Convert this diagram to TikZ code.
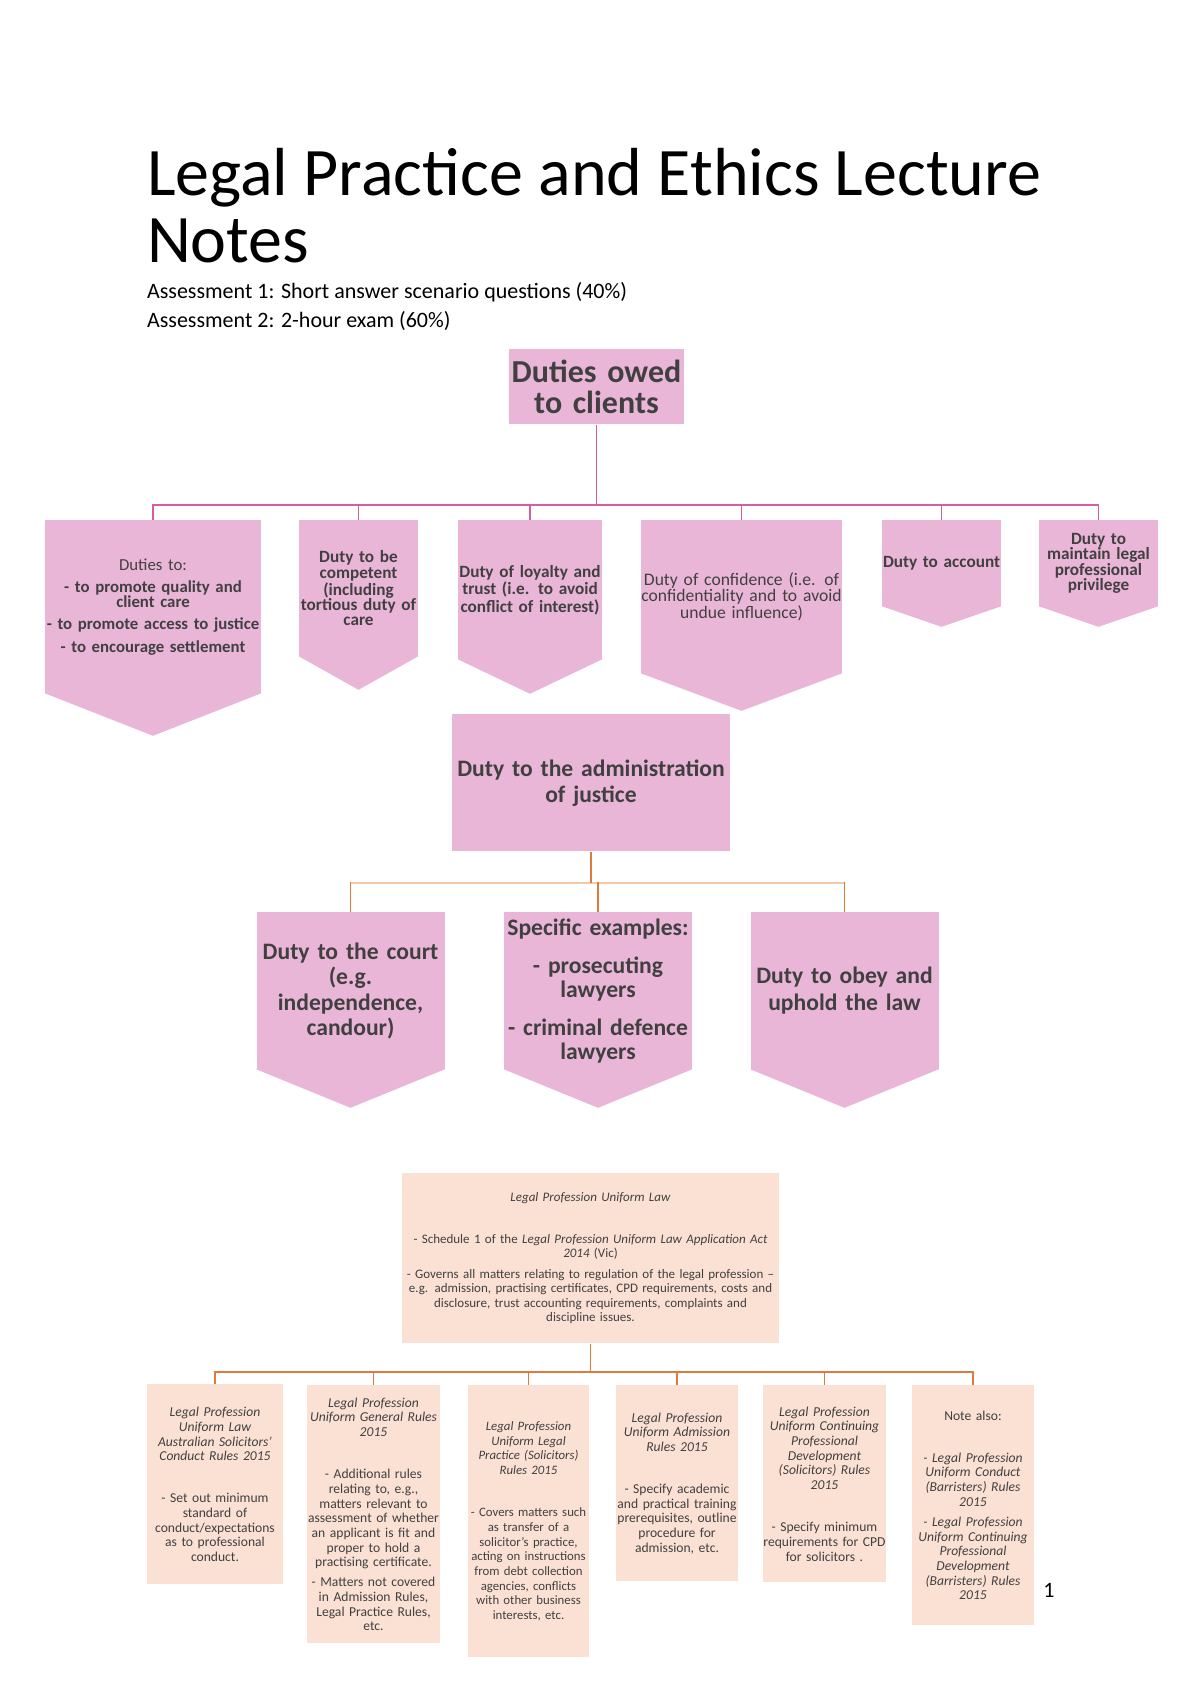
\documentclass[tikz,border=0pt]{standalone}
\usepackage{fontspec}
\setmainfont{Carlito}
\usetikzlibrary{calc}
\definecolor{pinkfill}{RGB}{234,182,216}
\definecolor{pinkedge}{RGB}{214,92,164}
\definecolor{peachfill}{RGB}{251,225,212}
\definecolor{orangeedge}{RGB}{222,122,62}
\definecolor{orangepale}{RGB}{245,200,170}
\definecolor{textgray}{RGB}{64,64,64}
\begin{document}
\begin{tikzpicture}[x=0.5pt,y=-0.5pt] % 1 unit = 1 px of the page
\tikzstyle{dutybox} = [fill=pinkfill, text=textgray, inner sep=0pt, align=center, anchor=north] % pink boxes
\tikzstyle{rulebox} = [fill=peachfill, text=textgray, inner sep=0pt, align=center, anchor=north, font=\fontsize{6.8}{7.35}\selectfont] % peach boxes
\tikzstyle{smalltxt} = [font=\fontsize{8.6}{7.6}\selectfont\bfseries] % text of the upper row
\tikzstyle{bigtxt} = [font=\fontsize{11.8}{12.6}\selectfont\bfseries] % text of the middle row
\tikzstyle{pinkline} = [draw=pinkedge, line width=0.8pt]
\tikzstyle{orline} = [draw=orangeedge, line width=0.8pt]
\tikzstyle{paleline} = [draw=orangepale, line width=0.8pt]

\useasboundingbox (0,0) rectangle (1200,1698); % page

% заголовок
\node[anchor=base west, font=\fontsize{34}{38}\selectfont] (title1) at (140,195) {Legal Practice and Ethics Lecture};
\node[anchor=base west, font=\fontsize{34}{38}\selectfont] (title2) at (140,262) {Notes};
\node[anchor=base west, font=\fontsize{11}{13}\selectfont] (assess1) at (140,298) {Assessment 1: Short answer scenario questions (40\%)};
\node[anchor=base west, font=\fontsize{11}{13}\selectfont] (assess2) at (140,327) {Assessment 2: 2-hour exam (60\%)};

% duties owed to clients
\node[dutybox, text width=87.5pt, minimum height=37.5pt, font=\fontsize{16}{15.5}\selectfont\bfseries] (clients) at (596.5,349) {Duties owed\\to clients};
\node[dutybox, text width=118pt, inner xsep=-5pt, minimum height=86.5pt, font=\fontsize{8.4}{7.6}\selectfont\bfseries] (cA) at (153,520) {{\mdseries Duties to:}\\[3.5pt]- to promote quality and\\client care\\[3.5pt]- to promote access to justice\\[3.5pt]- to encourage settlement};
\node[dutybox, smalltxt, text width=59.5pt, minimum height=68pt] (cB) at (358.5,520) {Duty to be\\competent\\(including\\tortious duty of\\care};
\node[dutybox, smalltxt, text width=72pt, minimum height=69.5pt] (cC) at (530,520) {Duty of loyalty and\\trust (i.e. to avoid\\conflict of interest)};
\node[dutybox, text width=100.5pt, minimum height=76.5pt, font=\fontsize{8.8}{7.8}\selectfont] (cD) at (741.5,520) {Duty of confidence (i.e. of\\confidentiality and to avoid\\undue influence)};
\node[dutybox, smalltxt, text width=59.5pt, minimum height=43pt] (cE) at (941.5,520) {Duty to account};
\node[dutybox, smalltxt, text width=59.5pt, minimum height=43pt] (cF) at (1098.5,520) {Duty to\\maintain legal\\professional\\privilege};

% administration of justice
\node[dutybox, bigtxt, text width=139pt, minimum height=68.5pt, font=\fontsize{11.8}{13}\selectfont\bfseries] (admin) at (591,714) {Duty to the administration\\of justice};
\node[dutybox, bigtxt, text width=94pt, minimum height=78.5pt] (dA) at (350.5,912) {Duty to the court\\(e.g.\\independence,\\candour)};
\node[dutybox, bigtxt, text width=94pt, minimum height=78.5pt, font=\fontsize{11.8}{11.8}\selectfont\bfseries] (dB) at (598,912) {Specific examples:\\[7.5pt]- prosecuting\\lawyers\\[7.5pt]- criminal defence\\lawyers};
\node[dutybox, bigtxt, text width=94pt, minimum height=78.5pt, font=\fontsize{11.8}{13.5}\selectfont\bfseries] (dC) at (844.5,912) {Duty to obey and\\uphold the law};

% острия стрелок-шевронов
\foreach \n/\d in {cA/42,cB/33,cC/34,cD/37,cE/20,cF/20,dA/38,dB/38,dC/38}
  \fill[pinkfill] ($(\n.south west)+(0,-0.6)$) -- ($(\n.south east)+(0,-0.6)$) -- ($(\n.south)+(0,\d)$) -- cycle;

% legislation
\node[rulebox, text width=188.5pt, minimum height=85pt, font=\fontsize{6.5}{7.25}\selectfont] (law) at (590.5,1173) {\textit{Legal Profession Uniform Law}\\[13.6pt]- Schedule 1 of the \textit{Legal Profession Uniform Law Application Act}\\\textit{2014} (Vic)\\[3pt]- Governs all matters relating to regulation of the legal profession --\\e.g. admission, practising certificates, CPD requirements, costs and\\disclosure, trust accounting requirements, complaints and\\discipline issues.};
\node[rulebox, text width=68pt, minimum height=100pt] (eA) at (215,1384) {{\itshape Legal Profession\\Uniform Law\\Australian Solicitors'\\Conduct Rules 2015}\\[13.65pt]- Set out minimum\\standard of\\conduct/expectations\\as to professional\\conduct.};
\node[rulebox, text width=66.5pt, minimum height=129pt] (eB) at (373.5,1385) {{\itshape Legal Profession\\Uniform General Rules\\2015}\\[13.65pt]- Additional rules\\relating to, e.g.,\\matters relevant to\\assessment of whether\\an applicant is fit and\\proper to hold a\\practising certificate.\\[2.65pt]- Matters not covered\\in Admission Rules,\\Legal Practice Rules,\\etc.};
\node[rulebox, text width=60.5pt, minimum height=136pt, font=\fontsize{6.4}{7.35}\selectfont] (eC) at (528.5,1385) {{\itshape Legal Profession\\Uniform Legal\\Practice (Solicitors)\\Rules 2015}\\[13.65pt]- Covers matters such\\as transfer of a\\solicitor's practice,\\acting on instructions\\from debt collection\\agencies, conflicts\\with other business\\interests, etc.};
\node[rulebox, text width=61pt, minimum height=98pt] (eD) at (677,1385) {{\itshape Legal Profession\\Uniform Admission\\Rules 2015}\\[13.65pt]- Specify academic\\and practical training\\prerequisites, outline\\procedure for\\admission, etc.};
\node[rulebox, text width=61.5pt, minimum height=98.5pt] (eE) at (824.5,1385) {{\itshape Legal Profession\\Uniform Continuing\\Professional\\Development\\(Solicitors) Rules\\2015}\\[13.65pt]- Specify minimum\\requirements for CPD\\for solicitors .};
\node[rulebox, text width=61pt, minimum height=120pt] (eF) at (973,1385) {Note also:\\[13.65pt]{\itshape - Legal Profession\\Uniform Conduct\\(Barristers) Rules\\2015\\[2.65pt]- Legal Profession\\Uniform Continuing\\Professional\\Development\\(Barristers) Rules\\2015}};

\node[font=\fontsize{11}{13}\selectfont] (pagenum) at (1049,1590) {1};

% connectors
\foreach \c in {cA,cB,cC,cD,cE,cF}
  \draw[pinkline] (clients.south) -- ++(0,80) -| (\c.north);
\foreach \c in {dA,dB,dC}
  \draw[paleline] (admin.south) -- ++(0,31) -| (\c.north);
\draw[orline] (admin.south) -- ++(0,31);
\foreach \c in {dA,dB,dC}
  \draw[orline] (\c.north) -- ++(0,-30); % vertical drops are darker
\foreach \c in {eA,eB,eC,eD,eE,eF}
  \draw[orline] (law.south) -- ++(0,28) -| (\c.north);
\end{tikzpicture}
\end{document}
